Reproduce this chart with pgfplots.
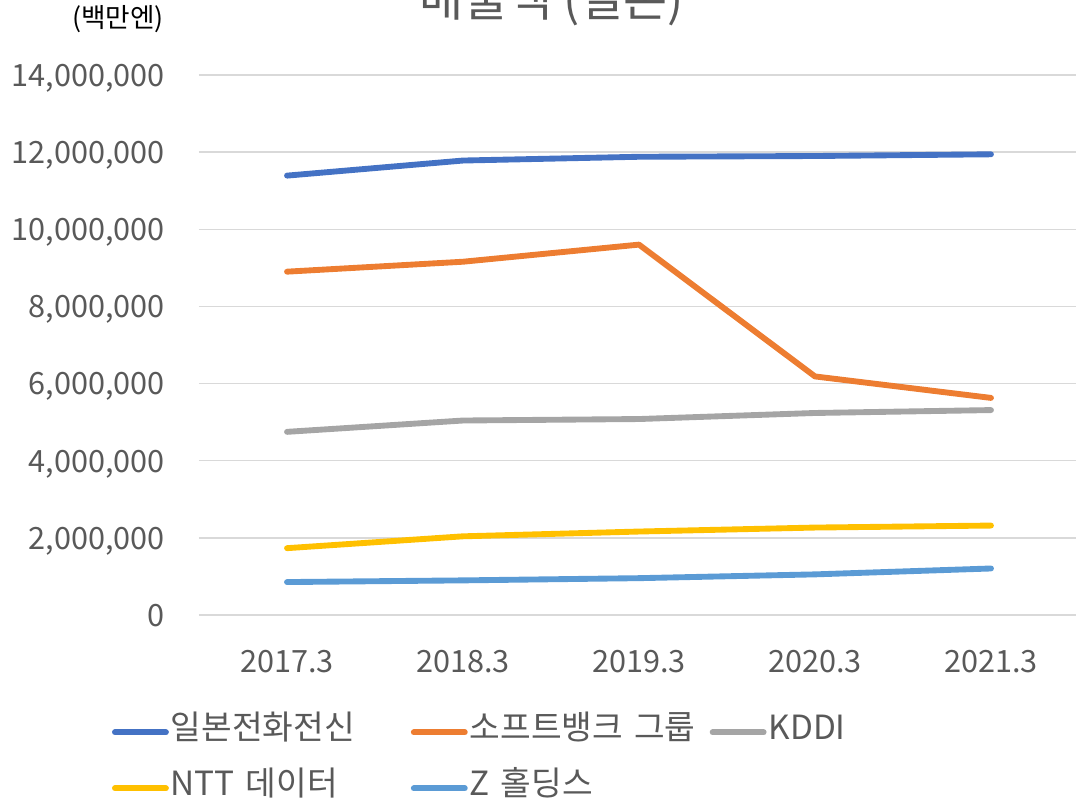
\documentclass[border=0pt]{standalone}
\usepackage{fontspec}
\setmainfont{Noto Sans CJK KR}
\usepackage{pgfplots}
\pgfplotsset{compat=1.18}
\definecolor{txt}{HTML}{595959}
\definecolor{gridc}{HTML}{D9D9D9}
\definecolor{c1}{HTML}{4472C4}
\definecolor{c2}{HTML}{ED7D31}
\definecolor{c3}{HTML}{A5A5A5}
\definecolor{c4}{HTML}{FFC000}
\definecolor{c5}{HTML}{5B9BD5}
\begin{document}
\begin{tikzpicture}
\useasboundingbox (-149.25pt,-140.25pt) rectangle (657.75pt,461.25pt);
\clip (-149.25pt,-140.25pt) rectangle (657.75pt,461.25pt);
\begin{axis}[
  scale only axis, width=660pt, height=405pt,
  xmin=-0.5, xmax=4.5, ymin=0, ymax=14000000,
  xtick={0,...,4}, xticklabels={2017.3,2018.3,2019.3,2020.3,2021.3},
  ytick={0,2000000,4000000,6000000,8000000,10000000,12000000,14000000},
  scaled y ticks=false,
  axis line style={draw=none},
  tick style={draw=none},
  major tick length=0pt,
  ymajorgrids, grid style={gridc, line width=1.1pt},
  /pgf/number format/.cd, fixed, 1000 sep={,}, precision=0, assume math mode=true, /pgfplots/.cd,
  yticklabel style={anchor=base east, inner sep=0pt, xshift=-25.5pt, yshift=-8.5pt, font=\fontsize{23}{28}\selectfont, text=txt},
  xticklabel style={anchor=base, inner sep=0pt, yshift=-43.5pt, font=\fontsize{23}{28}\selectfont, text=txt},
  legend columns=3,
  legend cell align=left,
  legend style={draw=none, fill=none, inner sep=0pt, outer sep=0pt,
    at={(-0.09886,-0.1902)}, anchor=north west,
    row sep=20pt, column sep=0pt,
    nodes={inner sep=0pt, text width=180pt, align=left, text height=16pt, text depth=6pt,
      font=\fontsize{25}{28}\selectfont, text=txt},
    /tikz/every odd column/.append style={column sep=1.5pt}},
  legend image code/.code={\path (0pt,0pt) -- (38.25pt,0pt);
    \draw[#1, line cap=round] (2.25pt,0pt) -- (36pt,0pt);},
  every axis plot/.append style={line width=4.4pt, line cap=round, line join=round},
]
\addplot[c1] coordinates {(0,11391016) (1,11782148) (2,11879842) (3,11899415) (4,11943966)};
\addlegendentry{일본전화전신}
\addplot[c2] coordinates {(0,8901004) (1,9158765) (2,9602236) (3,6185093) (4,5628167)};
\addlegendentry{소프트뱅크 그룹}
\addplot[c3] coordinates {(0,4748259) (1,5041978) (2,5080353) (3,5237221) (4,5312599)};
\addlegendentry{KDDI}
\addplot[c4] coordinates {(0,1732473) (1,2039690) (2,2163625) (3,2266808) (4,2318658)};
\addlegendentry{NTT 데이터}
\addplot[c5] coordinates {(0,853730) (1,897185) (2,954714) (3,1052942) (4,1205846)};
\addlegendentry{Z 홀딩스}
\end{axis}
\node[anchor=base, font=\fontsize{36}{40}\selectfont, text=txt, inner sep=0pt] at (264.75pt,448.5pt) {매출액 (일본)};
\node[anchor=base, font=\fontsize{20}{24}\selectfont, inner sep=0pt] at (-60.75pt,440.25pt) {(백만엔)};
\end{tikzpicture}
\end{document}
